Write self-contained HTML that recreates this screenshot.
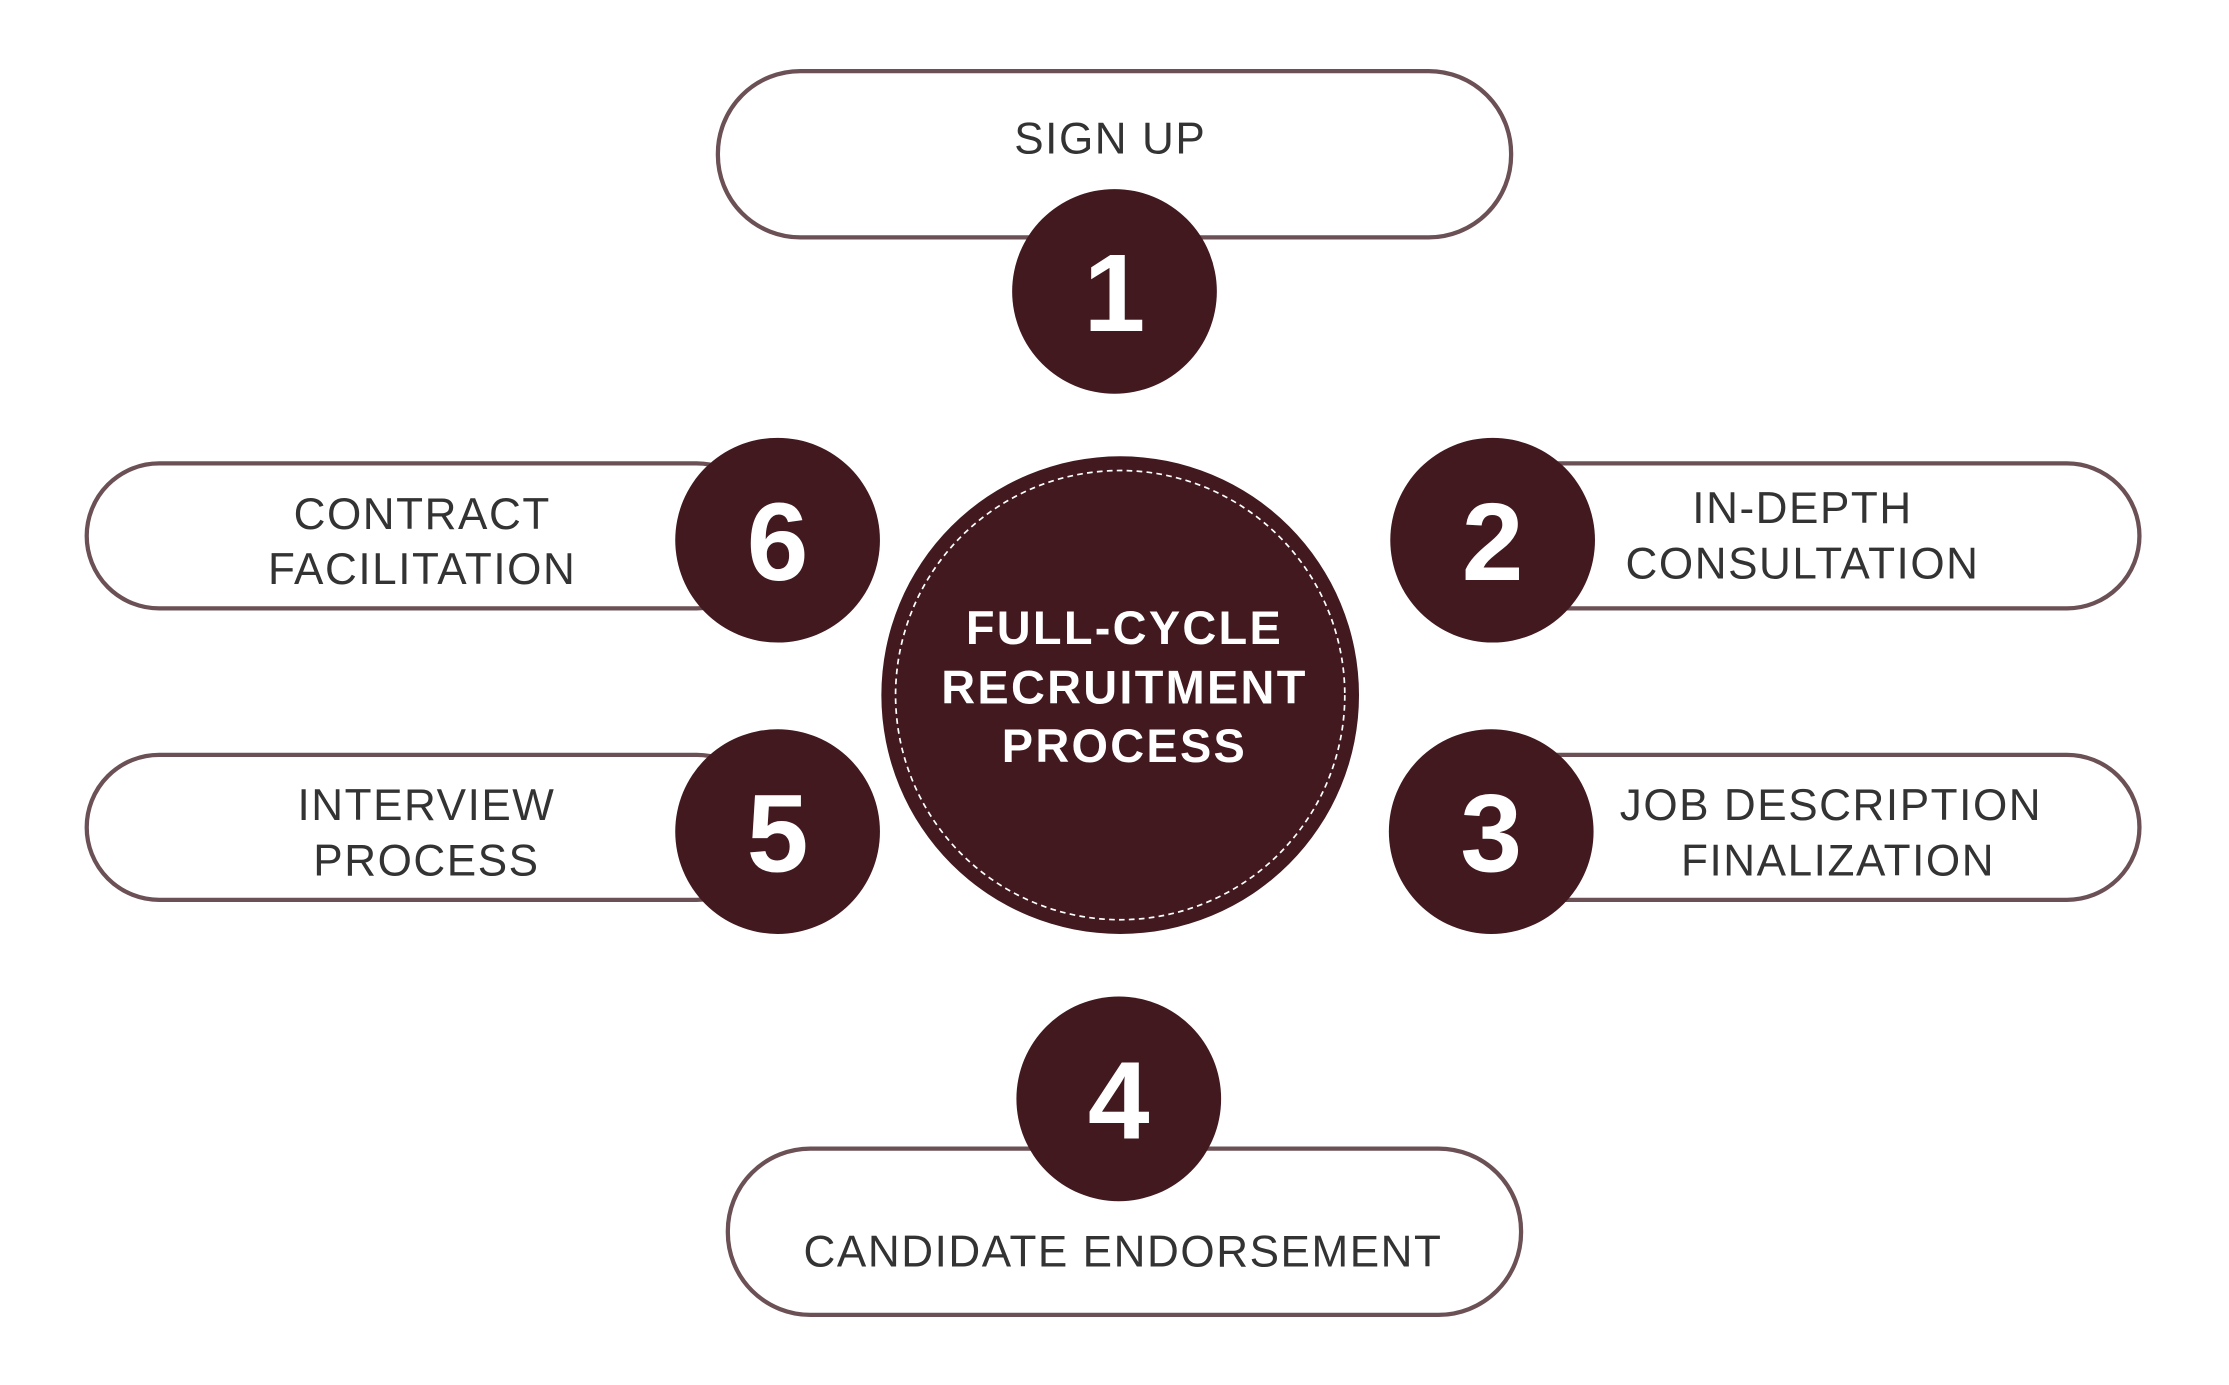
<!DOCTYPE html>
<html><head><meta charset="utf-8"><style>
html,body{margin:0;padding:0;background:#fff;}
svg{display:block;}
.l{font-family:"Liberation Sans",sans-serif;font-size:31px;fill:#333;text-anchor:middle;letter-spacing:1.1px;}
.n{font-family:"Liberation Sans",sans-serif;font-weight:bold;font-size:78px;fill:#fff;text-anchor:middle;}
.c{font-family:"Liberation Sans",sans-serif;font-weight:bold;font-size:33px;fill:#fff;text-anchor:middle;letter-spacing:1.6px;}
</style></head><body>
<svg width="2229" height="1385" viewBox="0 0 1568 974.3" preserveAspectRatio="none">
<g fill="#fff" stroke="#6b5055" stroke-width="3">
<rect x="505" y="50" width="558" height="117" rx="58"/>
<rect x="61" y="326" width="480" height="102" rx="51"/>
<rect x="1025" y="326" width="480" height="102" rx="51"/>
<rect x="61" y="531" width="480" height="102" rx="51"/>
<rect x="1025" y="531" width="480" height="102" rx="51"/>
<rect x="512" y="808" width="558" height="117" rx="58"/>
</g>
<g fill="#41191f">
<circle cx="784" cy="205" r="72"/>
<circle cx="547" cy="380" r="72"/>
<circle cx="1050" cy="380" r="72"/>
<circle cx="547" cy="585" r="72"/>
<circle cx="1049" cy="585" r="72"/>
<circle cx="787" cy="773" r="72"/>
<circle cx="788" cy="489" r="168"/>
</g>
<circle cx="788" cy="489" r="158" fill="none" stroke="#fff" stroke-width="1.2" stroke-dasharray="4 3"/>
<text class="n" x="784" y="233">1</text>
<text class="n" x="547" y="408">6</text>
<text class="n" x="1050" y="408">2</text>
<text class="n" x="547" y="613">5</text>
<text class="n" x="1049" y="613">3</text>
<text class="n" x="787" y="801">4</text>
<text class="c" x="791" y="453">FULL-CYCLE</text>
<text class="c" x="791" y="495">RECRUITMENT</text>
<text class="c" x="791" y="536">PROCESS</text>
<text class="l" x="297" y="372">CONTRACT</text>
<text class="l" x="297" y="411">FACILITATION</text>
<text class="l" x="781" y="108">SIGN UP</text>
<text class="l" x="1268" y="368">IN-DEPTH</text>
<text class="l" x="1268" y="407">CONSULTATION</text>
<text class="l" x="300" y="577">INTERVIEW</text>
<text class="l" x="300" y="616">PROCESS</text>
<text class="l" x="1288" y="577">JOB DESCRIPTION</text>
<text class="l" x="1293" y="616">FINALIZATION</text>
<text class="l" x="790" y="891">CANDIDATE ENDORSEMENT</text>
</svg>
</body></html>
